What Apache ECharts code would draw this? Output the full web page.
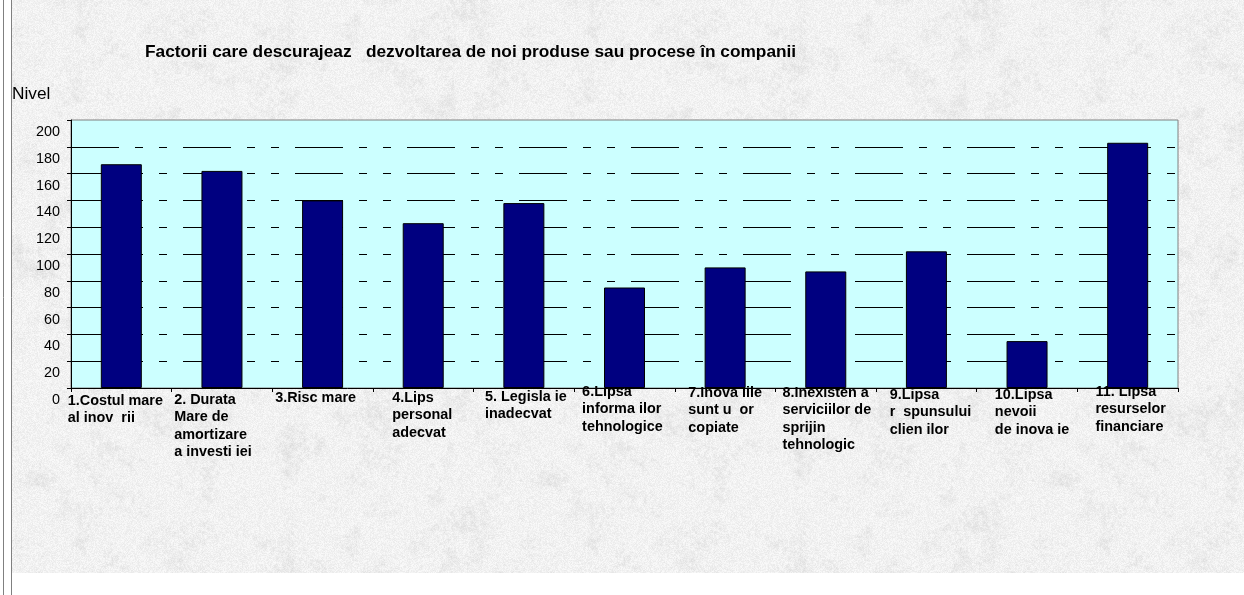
<!DOCTYPE html>
<html>
<head>
<meta charset="utf-8">
<script src="https://cdn.jsdelivr.net/npm/echarts@6/dist/echarts.min.js"></script>
<style>
  html, body { margin: 0; padding: 0; background: #ffffff; }
  #chart { width: 1244px; height: 595px; }
</style>
</head>
<body>
<div id="chart"></div>
<script>
// Chart text
const titleText = 'Factorii care descurajeaz   dezvoltarea de noi produse sau procese în companii';
const axisName = 'Nivel';

// Factors (category axis), one label per bar
const categories = [
  '1.Costul mare\nal inov  rii',
  '2. Durata\nMare de\namortizare\na investi iei',
  '3.Risc mare',
  '4.Lips\npersonal\nadecvat',
  '5. Legisla ie\ninadecvat',
  '6.Lipsa\ninforma ilor\ntehnologice',
  '7.Inova iile\nsunt u  or\ncopiate',
  '8.Inexisten a\nserviciilor de\nsprijin\ntehnologic',
  '9.Lipsa\nr  spunsului\nclien ilor',
  '10.Lipsa\nnevoii\nde inova ie',
  '11. Lipsa\nresurselor\nfinanciare'
];

// Level reported for each factor
const levels = [167, 162, 140, 123, 138, 75, 90, 87, 102, 35, 183];

// Value axis ticks: 0, 20, ... 200
const yMin = 0;
const yMax = 200;
const yStep = 20;

// Per-label placement tweaks for the category captions: [dx, dy] in px
const labelNudge = [[-6, 9], [-9, 8], [-7, 6], [-1, 6], [2, 5], [-2, 0], [0, 1], [1, 1], [4, 3], [5, 3], [3, 0]];

const FONT = '"Liberation Sans", Arial, sans-serif';

// Light grey grainy paper texture for the chart background
function makePaper(size) {
  const cv = document.createElement('canvas');
  cv.width = cv.height = size;
  const ctx = cv.getContext('2d');
  const img = ctx.createImageData(size, size);
  const hash = (x, y, s) => {
    let h = (x * 374761393 + y * 668265263 + s * 2246822519) | 0;
    h = Math.imul(h ^ (h >>> 13), 1274126177);
    h = h ^ (h >>> 16);
    return (h >>> 0) / 4294967295;
  };
  const vnoise = (x, y, cell, seed) => {
    const n = size / cell;
    const gx = x / cell, gy = y / cell;
    const x0 = Math.floor(gx), y0 = Math.floor(gy);
    const fx = gx - x0, fy = gy - y0;
    const sx = fx * fx * (3 - 2 * fx), sy = fy * fy * (3 - 2 * fy);
    const v = (i, j) => hash(((i % n) + n) % n, ((j % n) + n) % n, seed);
    const a = v(x0, y0), b = v(x0 + 1, y0), c = v(x0, y0 + 1), d = v(x0 + 1, y0 + 1);
    return a + (b - a) * sx + (c - a) * sy + (a - b - c + d) * sx * sy;
  };
  for (let y = 0; y < size; y++) {
    for (let x = 0; x < size; x++) {
      const blot = vnoise(x, y, 32, 4) * 0.25 + vnoise(x, y, 16, 1) * 0.3 +
                   vnoise(x, y, 4, 2) * 0.25 + vnoise(x, y, 2, 3) * 0.2;
      const fine = hash(x, y, 9);
      let g = 242 - Math.max(0, blot - 0.5) * 45 + (fine - 0.5) * 16;
      g = Math.max(205, Math.min(252, g));
      const i = (y * size + x) * 4;
      img.data[i] = g;
      img.data[i + 1] = g;
      img.data[i + 2] = g;
      img.data[i + 3] = 255;
    }
  }
  ctx.putImageData(img, 0, 0);
  return cv;
}

const categoryData = categories.map((name, i) => {
  const [dx, dy] = labelNudge[i];
  return {
    value: name,
    textStyle: { padding: [dy, dx < 0 ? -2 * dx : 0, 0, dx > 0 ? 2 * dx : 0] }
  };
});

const chart = echarts.init(document.getElementById('chart'), null, { renderer: 'canvas' });

const option = {
  animation: false,
  backgroundColor: { image: makePaper(512), repeat: 'repeat' },
  title: [
    {
      text: titleText,
      left: 145,
      top: 43,
      padding: 0,
      textStyle: { fontFamily: FONT, fontSize: 17.3, fontWeight: 'bold', color: '#000', lineHeight: 18 }
    },
    {
      text: axisName,
      left: 12,
      top: 85,
      padding: 0,
      textStyle: { fontFamily: FONT, fontSize: 17.3, fontWeight: 'normal', color: '#000', lineHeight: 18 }
    }
  ],
  grid: {
    left: 71,
    right: 66,
    top: 120,
    bottom: 207,
    containLabel: false,
    outerBoundsMode: 'none',
    show: true,
    backgroundColor: '#ccffff',
    borderColor: '#808080',
    borderWidth: 1
  },
  xAxis: {
    type: 'category',
    data: categoryData,
    boundaryGap: true,
    axisLine: { show: true, lineStyle: { color: '#000', width: 1 } },
    axisTick: { show: true, length: 4, lineStyle: { color: '#000', width: 1 } },
    axisLabel: {
      interval: 0,
      margin: -5,
      color: '#000',
      fontFamily: FONT,
      fontWeight: 'bold',
      fontSize: 14.4,
      lineHeight: 17.5,
      verticalAlign: 'top',
      formatter: (v) => '{c|' + v + '}',
      rich: {
        c: { align: 'left', fontFamily: FONT, fontWeight: 'bold', fontSize: 14.4, lineHeight: 17.5, color: '#000' }
      }
    },
    splitLine: { show: false }
  },
  yAxis: {
    type: 'value',
    min: yMin,
    max: yMax,
    interval: yStep,
    axisLine: { show: true, lineStyle: { color: '#000', width: 1 } },
    axisTick: { show: true, length: 4, lineStyle: { color: '#000', width: 1 } },
    axisLabel: {
      margin: 11,
      color: '#000',
      fontFamily: FONT,
      fontSize: 14.4,
      lineHeight: 16,
      verticalAlign: 'top',
      padding: [4, 0, 0, 0]
    },
    splitLine: {
      show: true,
      showMinLine: false,
      showMaxLine: false,
      lineStyle: { color: '#000', width: 1, type: [48, 16, 8, 16, 8, 16] }
    }
  },
  series: [
    {
      type: 'bar',
      data: levels,
      barWidth: 41,
      itemStyle: { color: '#000080', borderColor: '#000', borderWidth: 1 }
    }
  ],
  graphic: [
    { type: 'rect', silent: true, shape: { x: 0, y: 0, width: 12, height: 595 }, style: { fill: '#ffffff' } },
    { type: 'rect', silent: true, shape: { x: 12, y: 573, width: 1232, height: 22 }, style: { fill: '#ffffff' } },
    { type: 'line', silent: true, shape: { x1: 3.5, y1: 0, x2: 3.5, y2: 595 }, style: { stroke: '#808080', lineWidth: 1 } },
    { type: 'line', silent: true, shape: { x1: 11.5, y1: 0, x2: 11.5, y2: 595 }, style: { stroke: '#808080', lineWidth: 1 } }
  ]
};

chart.setOption(option);
</script>
</body>
</html>
